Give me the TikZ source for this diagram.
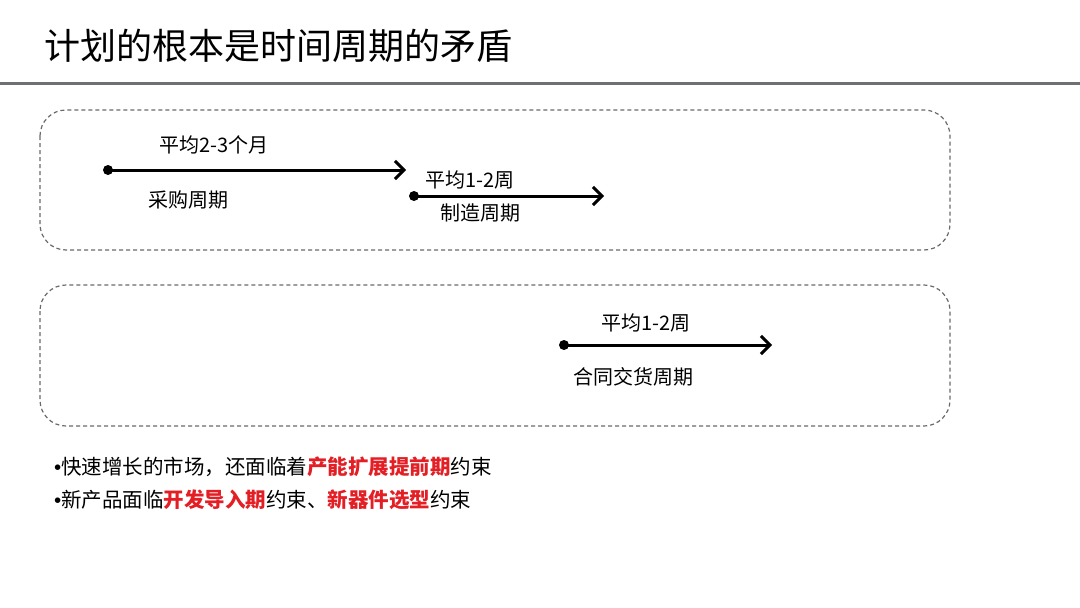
\documentclass[tikz,border=0pt]{standalone}
\usepackage{fontspec}
\setmainfont{Noto Sans CJK SC}
\newfontfamily\cjk{Noto Sans CJK SC}
\newfontfamily\latinf{Liberation Sans}
\usetikzlibrary{arrows.meta}
\definecolor{hired}{HTML}{E31E24}
\definecolor{rulegray}{HTML}{6E7073}
\definecolor{dashgray}{HTML}{6A6A6A}
\tikzset{
  framebox/.style={draw=dashgray, line width=1.2pt, dash pattern=on 4pt off 3pt, rounded corners=26pt},
  cycarrow/.style={line width=3pt, -{Straight Barb[length=9pt,width=18pt,line width=3pt]}},
  dotpt/.style={circle, fill=black, inner sep=0pt, minimum size=10pt},
  lbl/.style={font=\cjk\fontsize{20}{23}\selectfont, inner sep=0pt},
  bul/.style={font=\cjk\fontsize{20.5}{24}\selectfont, inner sep=0pt, anchor=west},
  ttl/.style={font=\cjk\fontsize{36}{40}\selectfont, inner sep=0pt, anchor=west}
}
\newcommand{\hl}[1]{{\bfseries\color{hired}#1}}
\newcommand{\bdot}{{\latinf •}}
\begin{document}
\begin{tikzpicture}[x=1pt,y=-1pt]
\useasboundingbox (0,0) rectangle (1080,608);
\fill[white] (0,0) rectangle (1080,608);
% title
\node[ttl] (title) at (44,46) {计划的根本是时间周期的矛盾};
\draw[rulegray, line width=3pt] (0,83) -- (1080,83);
% frames
\draw[framebox] (40,110) rectangle (950,250);
\draw[framebox] (40,285) rectangle (950,426);
% arrow 1
\node[dotpt] (a1s) at (108,170) {};
\coordinate (a1e) at (406,170);
\draw[cycarrow] (a1s.center) -- (a1e);
\node[lbl] (a1t) at (214,145) {平均2-3个月};
\node[lbl] (a1b) at (188,200) {采购周期};
% arrow 2
\node[dotpt] (a2s) at (414,196) {};
\coordinate (a2e) at (604,196);
\draw[cycarrow] (a2s.center) -- (a2e);
\node[lbl] (a2t) at (470,180) {平均1-2周};
\node[lbl] (a2b) at (480,213) {制造周期};
% arrow 3
\node[dotpt] (a3s) at (564,345) {};
\coordinate (a3e) at (772,345);
\draw[cycarrow] (a3s.center) -- (a3e);
\node[lbl] (a3t) at (646,323) {平均1-2周};
\node[lbl] (a3b) at (633,377) {合同交货周期};
% bullets
\node[bul] (b1) at (54,467) {\bdot 快速增长的市场，还面临着\hl{产能扩展提前期}约束};
\node[bul] (b2) at (54,500) {\bdot 新产品面临\hl{开发导入期}约束、\hl{新器件选型}约束};
\end{tikzpicture}
\end{document}
